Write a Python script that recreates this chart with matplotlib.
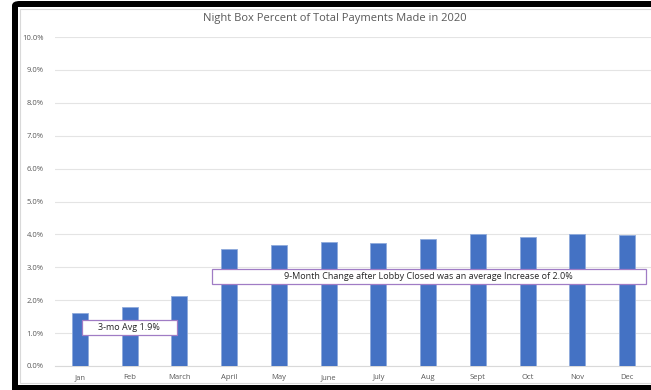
import matplotlib.pyplot as plt
from matplotlib.patches import Rectangle, FancyBboxPatch
from matplotlib.ticker import PercentFormatter

months = ["Jan", "Feb", "March", "April", "May", "June",
          "July", "Aug", "Sept", "Oct", "Nov", "Dec"]
night_box_pct = [1.62, 1.80, 2.13, 3.55, 3.68, 3.76,
                 3.75, 3.85, 4.02, 3.91, 4.02, 3.97]
y_ticks = [0, 1, 2, 3, 4, 5, 6, 7, 8, 9, 10]

avg_label = "3-mo Avg 1.9%"
change_label = "9-Month Change after Lobby Closed was an average Increase of 2.0%"

plt.rcParams['font.family'] = ['Open Sans', 'DejaVu Sans']

W, H = 651, 390
fig = plt.figure(figsize=(W / 100, H / 100), dpi=100)
fig.patch.set_facecolor("white")

# black frame round the chart area, white inner panel, thin grey chart border
fig.patches.append(FancyBboxPatch((12 / W, -0.05), 1.0, 1.05 - 1 / H,
                                  boxstyle="round,pad=0,rounding_size=0.012",
                                  transform=fig.transFigure, facecolor="black",
                                  edgecolor="none", zorder=-4))
fig.patches.append(Rectangle((18 / W, 5 / H), 1.0, 1 - 12 / H,
                             transform=fig.transFigure, facecolor="white",
                             edgecolor="none", zorder=-3))
fig.patches.append(Rectangle((20 / W, 7 / H), 1.0, 1 - 16 / H,
                             transform=fig.transFigure, facecolor="white",
                             edgecolor="#d9d9d9", linewidth=0.8, zorder=-2))

ax = fig.add_axes([55 / W, 24 / H, (652 - 55) / W, (366 - 37) / H])
ax.set_facecolor("none")

x = list(range(len(months)))
ax.bar(x, night_box_pct, width=0.32, color="#4472C4",
       edgecolor="#8faadc", linewidth=0.6, zorder=3)

ax.set_xlim(-0.5, 11.5)
ax.set_ylim(0, 10)
ax.set_yticks(y_ticks)
ax.yaxis.set_major_formatter(PercentFormatter(decimals=1))
ax.set_xticks(x)
ax.set_xticklabels(months)
ax.tick_params(axis="both", length=0, labelsize=5.5, labelcolor="#595959")
ax.tick_params(axis="y", pad=8)
ax.tick_params(axis="x", pad=6)
ax.grid(axis="y", color="#e4e4e4", linewidth=0.8, zorder=0)
for side in ["top", "right", "left"]:
    ax.spines[side].set_visible(False)
ax.spines["bottom"].set_color("#d9d9d9")
ax.spines["bottom"].set_linewidth(0.8)

fig.text(335 / W, 1 - 18 / H, "Night Box Percent of Total Payments Made in 2020",
         ha="center", va="center", fontsize=8, color="#595959")

# annotation boxes
ax.add_patch(Rectangle((0.04, 0.94), 1.91, 0.46, facecolor="white",
                       edgecolor="#a07cc5", linewidth=0.9, zorder=5))
ax.text(0.995, 1.17, avg_label, ha="center", va="center",
        fontsize=6.5, color="#262626", zorder=6)
ax.add_patch(Rectangle((2.66, 2.49), 8.71, 0.46, facecolor="white",
                       edgecolor="#a07cc5", linewidth=0.9, zorder=5))
ax.text(7.01, 2.72, change_label, ha="center", va="center",
        fontsize=6.5, color="#262626", zorder=6)

fig.savefig("out.png", dpi=100)
